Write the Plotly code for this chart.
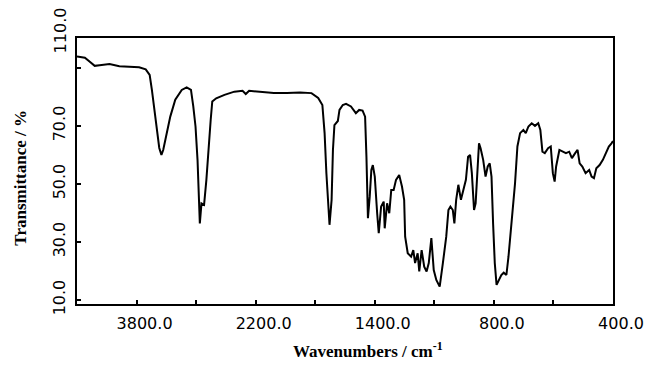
import numpy as np
import plotly.graph_objects as go

# IR spectrum (wavenumber in cm-1, transmittance in %)
wavenumber = [4600, 4494, 4428, 4362, 4296, 4163, 4031, 3899, 3766, 3677, 3624, 3594, 3568, 3524, 3495,
              3466, 3442, 3413, 3347, 3280, 3193, 3127, 3069, 3038, 3008, 2981, 2963, 2950, 2928, 2893,
              2862, 2830, 2804, 2783, 2730, 2619, 2486, 2376, 2333, 2288, 2167, 2078, 1990, 1902, 1825,
              1780, 1752, 1737, 1725, 1712, 1704, 1690, 1681, 1671, 1648, 1637, 1615, 1593, 1560, 1527,
              1505, 1482, 1465, 1456, 1446, 1434, 1423, 1413, 1400, 1388, 1380, 1368, 1355, 1350, 1338,
              1327, 1317, 1305, 1293, 1277, 1263, 1252, 1247, 1234, 1217, 1206, 1197, 1184, 1176, 1164,
              1151, 1139, 1128, 1115, 1103, 1090, 1073, 1057, 1040, 1029, 1019, 1007, 999, 990, 979,
              966, 953, 941, 930, 920, 911, 900, 892, 883, 875, 867, 854, 842, 831, 821,
              812, 804, 797, 791, 784, 775, 767, 758, 751, 740, 729, 721, 712, 701, 693,
              684, 673, 662, 651, 644, 637, 629, 618, 609, 602, 596, 591, 580, 569, 558,
              547, 538, 527, 519, 512, 503, 492, 480, 472, 464, 456, 445, 434, 425, 414,
              405, 400]
transmittance = [93.9, 93.5, 92.1, 90.7, 90.9, 91.3, 90.6, 90.4, 90.2, 89.5, 87.6, 82.4, 76.7, 67.5, 62.4,
                 60.0, 61.7, 65.2, 73.2, 79.0, 82.4, 83.3, 82.4, 76.7, 69.8, 58.3, 44.5, 36.4, 43.3, 42.8,
                 51.4, 64.0, 72.1, 78.4, 79.5, 80.7, 81.8, 82.1, 81.0, 82.1, 81.8, 81.3, 81.3, 81.5, 81.3,
                 79.6, 77.2, 67.5, 53.7, 43.3, 35.9, 44.5, 61.7, 70.3, 71.7, 75.5, 77.2, 77.6, 76.7, 74.4,
                 75.5, 75.3, 73.2, 59.4, 38.2, 45.6, 54.8, 56.5, 52.5, 39.9, 33.0, 42.2, 43.9, 34.7, 43.3,
                 39.9, 47.9, 47.9, 51.4, 53.1, 49.1, 44.5, 31.8, 26.1, 24.9, 27.2, 22.7, 26.1, 19.8, 27.2,
                 21.5, 19.8, 22.7, 31.3, 20.3, 16.9, 14.6, 22.7, 31.8, 41.0, 42.2, 41.0, 36.4, 44.5, 49.7,
                 44.5, 47.9, 51.4, 59.4, 60.0, 53.7, 41.0, 43.3, 56.0, 64.0, 62.3, 58.3, 52.5, 56.0, 57.1,
                 52.5, 36.4, 22.7, 15.2, 16.9, 18.6, 19.4, 18.6, 24.9, 36.4, 50.2, 62.9, 67.5, 68.6, 67.5,
                 69.8, 70.9, 70.0, 70.9, 68.6, 61.1, 60.6, 62.3, 62.9, 53.7, 50.8, 56.0, 61.7, 61.1, 60.6,
                 61.1, 58.9, 60.6, 61.7, 57.1, 56.0, 53.7, 54.8, 52.5, 52.0, 55.4, 56.5, 58.3, 60.6, 62.9,
                 64.0, 64.8]

# Axis labels as printed on the chart (the printed axis is piecewise linear)
x_tick_labels = [3800, 2200, 1400, 800, 400]
y_tick_labels = [10, 30, 50, 70]
y_top_label = 110

# piecewise-linear scale of the printed wavenumber axis
scale_wn = [400, 800, 1400, 2200, 3800, 4600]
scale_pos = [9, 7, 5, 3, 1, 0]


def to_axis(v):
    return np.interp(np.asarray(v, dtype=float), scale_wn, scale_pos)


tick_font = dict(family="DejaVu Sans", size=16, color="black")
title_font = dict(family="Liberation Serif", size=17, color="black")

fig = go.Figure()
fig.add_trace(go.Scatter(
    x=to_axis(wavenumber), y=transmittance, mode="lines",
    line=dict(color="black", width=2), showlegend=False, hoverinfo="skip"))

fig.update_layout(
    width=656, height=367,
    margin=dict(l=77, r=35, t=38, b=63),
    paper_bgcolor="white", plot_bgcolor="white",
    xaxis=dict(range=[0, 9], showgrid=False, zeroline=False,
               showline=True, mirror=True, linecolor="black", linewidth=2,
               ticks="inside", ticklen=4, tickwidth=1.5, tickcolor="black",
               tickvals=list(to_axis(x_tick_labels)),
               ticktext=[f"{v:.1f}" for v in x_tick_labels], tickfont=tick_font,
               ticklabelshift=8, ticklabelstandoff=4,
               minor=dict(dtick=1, tick0=0, ticks="inside", ticklen=4,
                          tickwidth=1.5, tickcolor="black", showgrid=False)),
    yaxis=dict(range=[8.6, 100.3], showgrid=False, zeroline=False,
               showline=True, mirror=True, linecolor="black", linewidth=2,
               ticks="inside", ticklen=4, tickwidth=1.5, tickcolor="black",
               tickvals=y_tick_labels, ticktext=[f"{v:.1f}" for v in y_tick_labels],
               tickfont=tick_font, tickangle=-90, ticklabelstandoff=4,
               minor=dict(dtick=20, tick0=10, ticks="inside", ticklen=4,
                          tickwidth=1.5, tickcolor="black", showgrid=False)),
)

fig.add_annotation(text=f"{y_top_label:.1f}", xref="paper", yref="paper",
                   x=-0.031, y=1.03, showarrow=False, textangle=-90,
                   font=tick_font, xanchor="center", yanchor="middle")
fig.add_annotation(text="<b>Transmittance / %</b>", xref="paper", yref="paper",
                   x=-0.105, y=0.474, showarrow=False, textangle=-90,
                   font=title_font, xanchor="center", yanchor="middle")
fig.add_annotation(text="<b>Wavenumbers / cm<sup>-1</sup></b>", xref="paper", yref="paper",
                   x=0.542, y=-0.173, showarrow=False,
                   font=title_font, xanchor="center", yanchor="middle")

fig.write_html("out.html", config={"displayModeBar": False},
               post_script="document.body.style.margin='0px';")
